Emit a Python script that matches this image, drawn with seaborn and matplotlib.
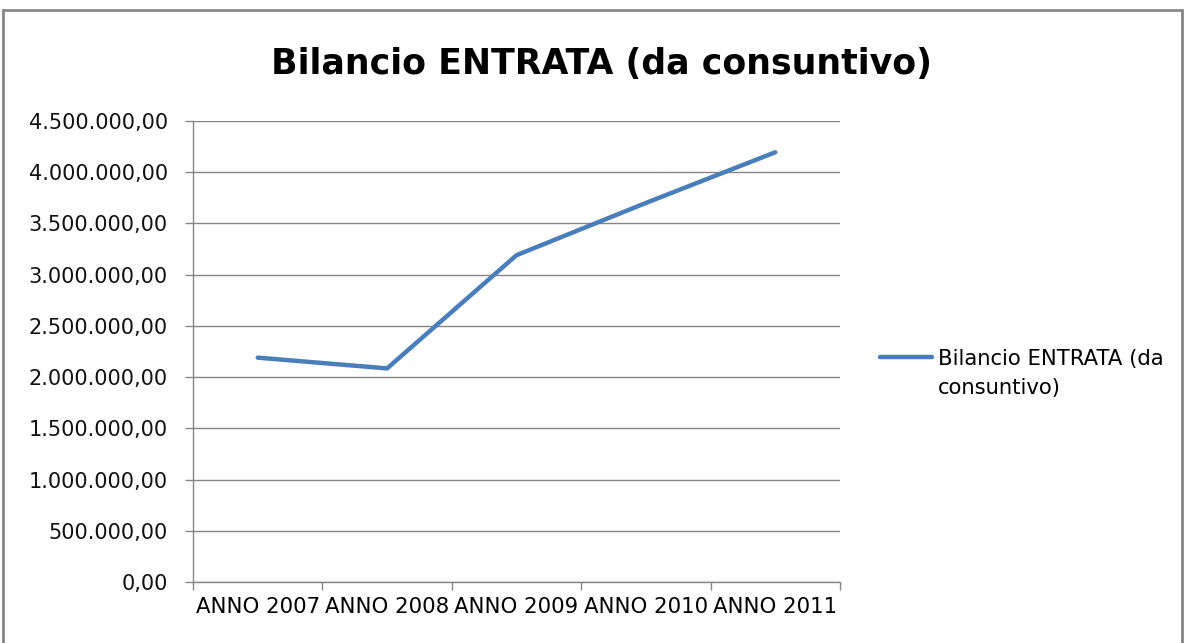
import matplotlib
matplotlib.use("Agg")
import matplotlib.pyplot as plt
import matplotlib.ticker as mticker
from matplotlib.patches import Rectangle
import pandas as pd
import seaborn as sns

# Dati
anni = ["ANNO 2007", "ANNO 2008", "ANNO 2009", "ANNO 2010", "ANNO 2011"]
entrate = [2190000, 2085000, 3190000, 3700000, 4195000]
serie = "Bilancio ENTRATA (da consuntivo)"

sns.set_theme(style="white")
plt.rcParams["font.family"] = ["DejaVu Sans"]
plt.rcParams["text.color"] = "black"

df = pd.DataFrame({"anno": anni, "valore": entrate})

fig = plt.figure(figsize=(11.85, 6.43), dpi=100)
ax = fig.add_axes([193 / 1185, 1 - 582 / 643, (840 - 193) / 1185, (582 - 121) / 643])

grigio = "#868686"
sns.lineplot(data=df, x="anno", y="valore", ax=ax, color="#4A7EBB",
             linewidth=3.2, label="Bilancio ENTRATA (da\nconsuntivo)", sort=False)

# asse y
ax.set_ylim(0, 4500000)
ax.yaxis.set_major_locator(mticker.MultipleLocator(500000))
ax.yaxis.set_major_formatter(mticker.FuncFormatter(
    lambda v, p: f"{v:,.2f}".replace(",", "X").replace(".", ",").replace("X", ".")))
ax.grid(axis="y", color=grigio, linewidth=1)
ax.set_axisbelow(True)

# asse x: etichette al centro, tacche tra le categorie
ax.set_xlim(-0.5, len(anni) - 0.5)
ax.set_xticks(range(len(anni)))
ax.set_xticklabels(anni)
ax.set_xticks([i - 0.5 for i in range(len(anni) + 1)], minor=True)
ax.tick_params(axis="x", which="major", length=0, pad=11, labelsize=15.3,
               labelcolor="black", bottom=True)
ax.tick_params(axis="x", which="minor", length=6, width=1, color=grigio,
               direction="out", bottom=True)
ax.tick_params(axis="y", length=6, width=1, color=grigio, direction="out", pad=12,
               labelsize=15, left=True, labelcolor="#111111")
ax.set_xlabel("")
ax.set_ylabel("")

for lato in ["top", "right"]:
    ax.spines[lato].set_visible(False)
for lato in ["left", "bottom"]:
    ax.spines[lato].set_color(grigio)
    ax.spines[lato].set_linewidth(1)

fig.suptitle(serie, x=0.508, y=1 - 64 / 643, va="center", fontsize=25,
             fontweight="bold", color="black")

leg = ax.legend(loc="upper left", bbox_to_anchor=(872 / 1185, 1 - 341 / 643),
                bbox_transform=fig.transFigure, frameon=False, fontsize=15.2,
                handlelength=2.45, handletextpad=0.28, borderaxespad=0)
for t in leg.get_texts():
    t.set_linespacing(1.55)
    t.set_color("black")
# linea della legenda allineata alla prima riga del testo
for col in leg._legend_handle_box.get_children():
    for riga in col.get_children():
        riga.align = "top"

# bordo grigio del riquadro
fig.patches.append(Rectangle((3 / 1185, -0.02), 1179 / 1185, 1 - 10 / 643 + 0.02,
                             transform=fig.transFigure, fill=False,
                             edgecolor=grigio, linewidth=2))

fig.savefig("out.png", dpi=100)
